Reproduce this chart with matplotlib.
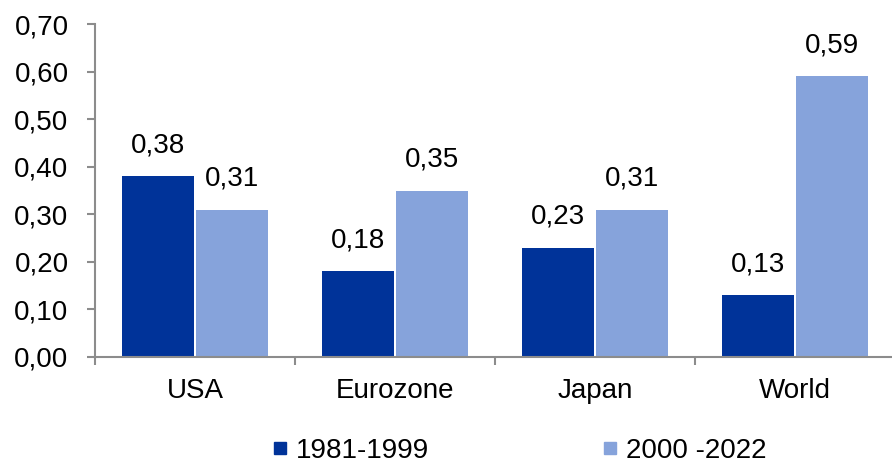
import matplotlib
matplotlib.use("Agg")
import matplotlib.pyplot as plt
from matplotlib.lines import Line2D
import numpy as np

plt.rcParams['font.family'] = ['Liberation Sans', 'DejaVu Sans']

regions = ["USA", "Eurozone", "Japan", "World"]
series_names = ["1981-1999", "2000 -2022"]
values_1981_1999 = [0.38, 0.18, 0.23, 0.13]
values_2000_2022 = [0.31, 0.35, 0.31, 0.59]
y_ticks = [0.0, 0.1, 0.2, 0.3, 0.4, 0.5, 0.6, 0.7]

dark = "#003399"
light = "#86A3DB"
axis_grey = "#8C8C8C"
fs = 20

fig = plt.figure(figsize=(8.92, 4.66), dpi=100)
ax = fig.add_axes([95 / 892, 1 - 357 / 466, 800 / 892, 333 / 466])

x = np.arange(len(regions))
w = 0.36
gap = 0.005
b1 = ax.bar(x - w / 2 - gap, values_1981_1999, width=w, color=dark, label=series_names[0])
b2 = ax.bar(x + w / 2 + gap, values_2000_2022, width=w, color=light, label=series_names[1])

fmt = lambda v: f"{v:.2f}".replace(".", ",")
for bars, vals in ((b1, values_1981_1999), (b2, values_2000_2022)):
    for rect, v in zip(bars, vals):
        ax.annotate(fmt(v), (rect.get_x() + rect.get_width() / 2, v),
                    xytext=(0, 13), textcoords="offset points",
                    ha="center", va="bottom", fontsize=fs)

ax.set_ylim(0, 0.70)
ax.set_xlim(-0.5, len(regions) - 0.5)
ax.set_yticks(y_ticks)
ax.set_yticklabels([fmt(t) for t in y_ticks])

ax.set_xticks(np.arange(len(regions) + 1) - 0.5)
ax.set_xticklabels([])
ax.set_xticks(x, minor=True)
ax.set_xticklabels(regions, minor=True)
ax.tick_params(axis="x", which="minor", length=0, pad=15, labelsize=fs)
ax.tick_params(axis="x", which="major", length=6, width=1.5, color=axis_grey)
ax.tick_params(axis="y", length=6, width=1.5, color=axis_grey, pad=13, labelsize=fs)

for s in ("top", "right"):
    ax.spines[s].set_visible(False)
for s in ("left", "bottom"):
    ax.spines[s].set_color(axis_grey)
    ax.spines[s].set_linewidth(1.5)

handles = [Line2D([], [], marker="s", ls="", color=c, markersize=8.6)
           for c in (dark, light)]
fig.legend(handles, series_names, loc="center", bbox_to_anchor=(0.583, 0.032),
           ncol=2, frameon=False, fontsize=fs, handlelength=0.45,
           handletextpad=0.35, columnspacing=6.3, borderpad=0.1)

fig.savefig("out.png", dpi=100)
